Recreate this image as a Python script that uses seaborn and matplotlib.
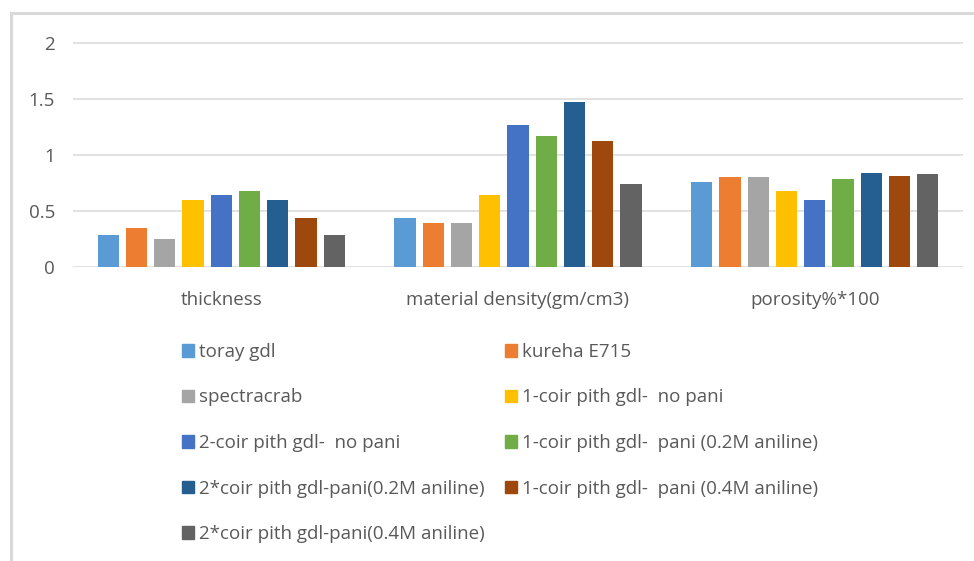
import matplotlib
matplotlib.use("Agg")
import matplotlib.pyplot as plt
import matplotlib.patches as mpatches
import seaborn as sns
import pandas as pd

categories = ["thickness", "material density(gm/cm3)", "porosity%*100"]
series_names = [
    "toray gdl",
    "kureha E715",
    "spectracrab",
    "1-coir pith gdl-  no pani",
    "2-coir pith gdl-  no pani",
    "1-coir pith gdl-  pani (0.2M aniline)",
    "2*coir pith gdl-pani(0.2M aniline)",
    "1-coir pith gdl-  pani (0.4M aniline)",
    "2*coir pith gdl-pani(0.4M aniline)",
]
# values per series: [thickness, density, porosity]
toray = [0.29, 0.44, 0.76]
kureha = [0.35, 0.39, 0.80]
spectracrab = [0.25, 0.39, 0.80]
coir1_nopani = [0.60, 0.64, 0.68]
coir2_nopani = [0.64, 1.27, 0.60]
coir1_pani02 = [0.68, 1.17, 0.79]
coir2_pani02 = [0.60, 1.47, 0.84]
coir1_pani04 = [0.44, 1.12, 0.81]
coir2_pani04 = [0.29, 0.74, 0.83]
series_values = [toray, kureha, spectracrab, coir1_nopani, coir2_nopani,
                 coir1_pani02, coir2_pani02, coir1_pani04, coir2_pani04]
colors = ["#5B9BD5", "#ED7D31", "#A5A5A5", "#FFC000", "#4472C4",
          "#70AD47", "#255E91", "#9E480E", "#636363"]
yticks = [0, 0.5, 1, 1.5, 2]
ytick_labels = ["0", "0.5", "1", "1.5", "2"]

rows = []
for name, vals in zip(series_names, series_values):
    for cat, v in zip(categories, vals):
        rows.append({"category": cat, "series": name, "value": v})
df = pd.DataFrame(rows)

sns.set_theme(style="white")
plt.rcParams["font.family"] = ["Open Sans", "DejaVu Sans"]
text_color = "#595959"
fs = 13.5

W, H = 974, 561
fig = plt.figure(figsize=(W / 100, H / 100), dpi=100)

# outer light-gray frame (only top/left visible in reference)
fig.patches.append(mpatches.Rectangle((11 / W, -0.05), 1.2, 1 - 13 / H + 0.05,
                                      transform=fig.transFigure, fill=False,
                                      edgecolor="#D9D9D9", linewidth=2.2))

ymax = 2.02
px_per_unit = (267.2 - 42.7) / 2
top_px = 267.2 - ymax * px_per_unit
ax = fig.add_axes([73 / W, 1 - 267.2 / H, (963 - 73) / W, (267.2 - top_px) / H])

sns.barplot(data=df, x="category", y="value", hue="series",
            order=categories, hue_order=series_names, palette=colors,
            saturation=1, width=0.857, gap=0.25, ax=ax, legend=False,
            zorder=3, linewidth=0, errorbar=None)

ax.set_ylim(0, ymax)
ax.set_xlim(-0.5, 2.5)
ax.set_yticks(yticks)
ax.set_yticklabels(ytick_labels)
ax.yaxis.grid(True, color="#D9D9D9", linewidth=1.1, zorder=0)
ax.set_axisbelow(True)
for s in ax.spines.values():
    s.set_visible(False)
ax.set_xlabel("")
ax.set_ylabel("")
ax.tick_params(axis="x", length=0, pad=17, labelsize=fs, labelcolor=text_color)
ax.tick_params(axis="y", length=0, pad=13, labelsize=fs, labelcolor=text_color)

handles = [mpatches.Patch(color=c, label=n) for c, n in zip(colors, series_names)]
order = [0, 2, 4, 6, 8, 1, 3, 5, 7]
px = fs * 100 / 72
leg = fig.legend([handles[i] for i in order], [series_names[i] for i in order],
                 ncol=2, loc="upper left", bbox_to_anchor=(182 / W, 1 - 343 / H),
                 frameon=False, fontsize=fs, handlelength=12 / px,
                 handleheight=12 / px, handletextpad=5 / px,
                 columnspacing=20 / px, labelspacing=46.25 / px - 1.0,
                 borderaxespad=0, borderpad=0)
for t in leg.get_texts():
    t.set_color(text_color)

fig.savefig("out.png", dpi=100, facecolor="white")
